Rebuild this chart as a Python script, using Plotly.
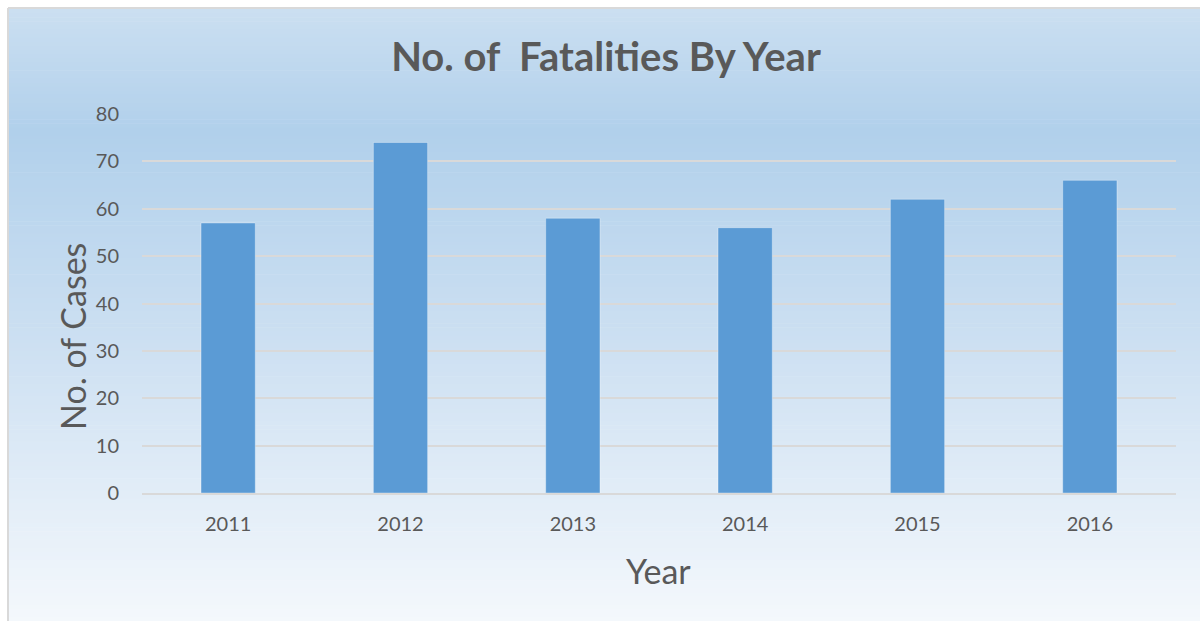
import plotly.graph_objects as go

# Data
years = ["2011", "2012", "2013", "2014", "2015", "2016"]
fatalities = [57, 74, 58, 56, 62, 66]
y_ticks = [0, 10, 20, 30, 40, 50, 60, 70, 80]

W, H = 1200, 621
ML, MR, MT, MB = 142, 24, 114, 128
PW, PH = W - ML - MR, H - MT - MB


def px_x(px):
    return (px - ML) / PW


def px_y(py):
    return (H - MB - py) / PH


def lerp(c1, c2, t):
    return tuple(round(a + (b - a) * t) for a, b in zip(c1, c2))


# vertical background gradient (top -> darker band -> pale bottom)
stops = [(0.0, (203, 223, 241)), (0.2, (177, 208, 235)), (0.55, (205, 224, 242)), (1.0, (244, 248, 252))]


def grad(t):
    for (t0, c0), (t1, c1) in zip(stops, stops[1:]):
        if t <= t1:
            return lerp(c0, c1, (t - t0) / (t1 - t0))
    return stops[-1][1]


shapes = []
top, bottom, left = 9, H, 9
n = 150
step = (bottom - top) / n
for i in range(n):
    y0 = top + i * step
    y1 = y0 + step + 0.6
    c = grad((i + 0.5) / n)
    shapes.append(dict(
        type="rect", xref="paper", yref="paper", layer="below",
        x0=px_x(left), x1=px_x(W + 2), y0=px_y(min(y1, H + 1)), y1=px_y(y0),
        fillcolor="rgb(%d,%d,%d)" % c, line=dict(width=0),
    ))

# frame lines on the top and left edges
shapes.append(dict(type="line", xref="paper", yref="paper", layer="above",
                   x0=px_x(8), x1=px_x(W + 2), y0=px_y(8), y1=px_y(8),
                   line=dict(color="#d9d9d9", width=2)))
shapes.append(dict(type="line", xref="paper", yref="paper", layer="above",
                   x0=px_x(8), x1=px_x(8), y0=px_y(8), y1=px_y(H + 2),
                   line=dict(color="#d9d9d9", width=2)))

fig = go.Figure(go.Bar(
    x=years, y=fatalities,
    marker=dict(color="#5b9bd5", line=dict(color="rgba(255,255,255,0.35)", width=1)),
    width=0.315,
))

font = "Lato, 'Open Sans', sans-serif"

# axis titles placed as annotations
annotations = [
    dict(text="No. of Cases", xref="paper", yref="paper", x=px_x(72), y=px_y(337),
         xanchor="center", yanchor="middle", textangle=-90, showarrow=False,
         font=dict(size=34, color="#595959", family=font)),
    dict(text="Year", xref="paper", yref="paper", x=px_x(658), y=px_y(570),
         xanchor="center", yanchor="middle", showarrow=False,
         font=dict(size=34, color="#595959", family=font)),
]

fig.update_layout(
    width=W, height=H,
    margin=dict(l=ML, r=MR, t=MT, b=MB),
    paper_bgcolor="white",
    plot_bgcolor="rgba(0,0,0,0)",
    shapes=shapes,
    annotations=annotations,
    showlegend=False,
    font=dict(family=font, color="#595959"),
    title=dict(text="<b>No. of  Fatalities By Year</b>", x=px_x(606), xref="paper",
               xanchor="center", y=1 - 57 / H, yanchor="middle",
               font=dict(size=40, color="#595959", family=font)),
    xaxis=dict(
        showgrid=False, showline=True, linecolor="#d9d9d9", linewidth=2,
        tickfont=dict(size=20), ticks="", ticklabelstandoff=12,
    ),
    yaxis=dict(
        range=[0, 80], tickvals=y_ticks, showgrid=True, gridcolor="#d9d9d9", gridwidth=2,
        zeroline=False, showline=False, tickfont=dict(size=20), ticks="",
        ticklabelstandoff=22,
    ),
)

fig.write_html("out.html")
